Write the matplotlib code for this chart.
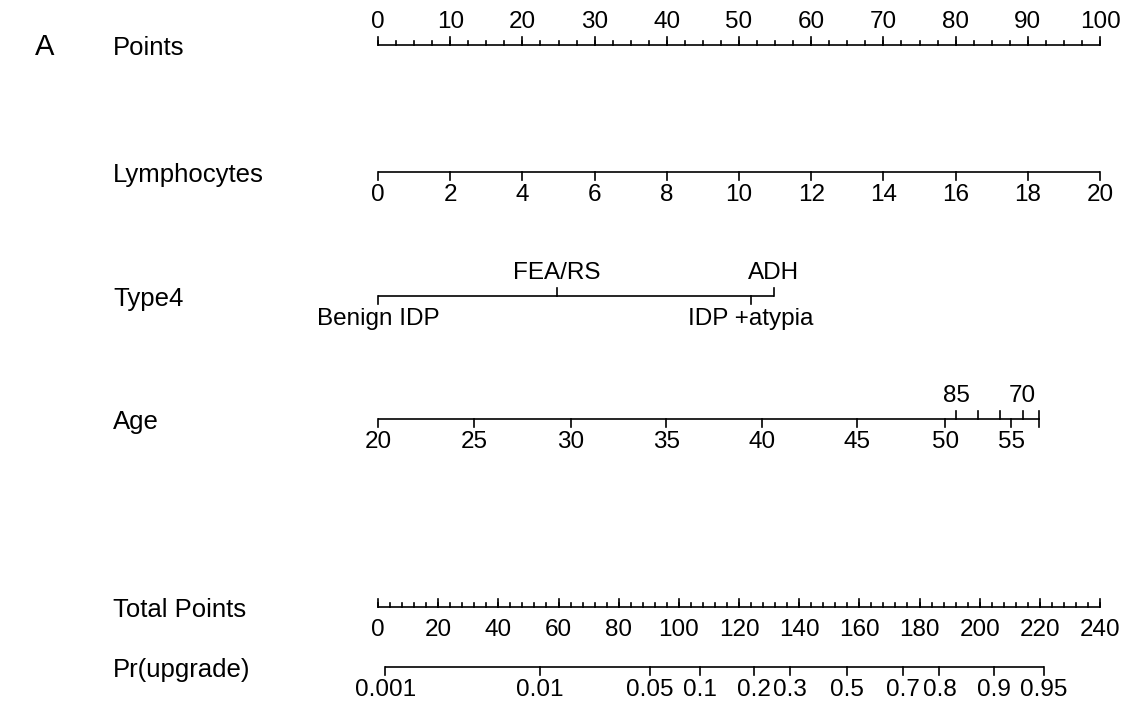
import numpy as np
import matplotlib.pyplot as plt

plt.rcParams['font.family'] = ['Liberation Sans', 'DejaVu Sans']

# nomogram data (points scale 0-100)
points_ticks = np.arange(0, 101, 10)
points_minor = np.arange(0, 100.1, 2.5)

lymph_vals = np.arange(0, 21, 2)
lymph_pts = lymph_vals * 5.0

type4_labels = ['Benign IDP', 'FEA/RS', 'IDP +atypia', 'ADH']
type4_pts = [0.0, 24.8, 51.6, 54.8]
type4_side = ['down', 'up', 'down', 'up']

age_low_vals = [20, 25, 30, 35, 40, 45, 50, 55, 60]
age_low_pts = [0.0, 13.3, 26.7, 39.9, 53.2, 66.4, 78.6, 87.7, 91.5]
age_low_show = [True, True, True, True, True, True, True, True, False]
age_high_vals = [85, 80, 75, 70, 65]
age_high_pts = [80.1, 83.1, 86.2, 89.3, 91.5]
age_high_show = [True, False, False, True, False]

total_ticks = np.arange(0, 241, 20)
total_minor = np.arange(0, 240.1, 4)
total_max = 240.0

prob_ticks = [0.001, 0.01, 0.05, 0.1, 0.2, 0.3, 0.5, 0.7, 0.8, 0.9, 0.95]
prob_labels = ['0.001', '0.01', '0.05', '0.1', '0.2', '0.3', '0.5', '0.7', '0.8', '0.9', '0.95']
lp_intercept = -7.015
lp_slope = 0.04502

row_names = ['Points', 'Lymphocytes', 'Type4', 'Age', 'Total Points', 'Pr(upgrade)']
row_y = [45, 172, 296, 419, 607, 667]

W, H = 1124, 715
fig = plt.figure(figsize=(W / 100, H / 100), dpi=100)
ax = fig.add_axes([378 / W, 0, 722 / W, 1])
ax.set_xlim(0, 100)
ax.set_ylim(H, 0)
ax.axis('off')

lw = 1.2
fs = 17.5
big = 8
small = 4
px = 100 / 722.0  # one pixel in points units


def hline(x0, x1, y):
    ax.plot([x0, x1], [y, y], color='black', lw=lw, solid_capstyle='butt', clip_on=False)


def tick(x, y, length, up):
    y2 = y - length if up else y + length
    ax.plot([x, x], [y, y2], color='black', lw=lw, clip_on=False)


def label(x, y, s, up, ha='center'):
    if up:
        ax.text(x, y - 12, s, ha=ha, va='bottom', fontsize=fs, clip_on=False)
    else:
        ax.text(x, y + 12, s, ha=ha, va='top', fontsize=fs, clip_on=False)


# row names
for name, y in zip(row_names, row_y):
    ax.text(-265 * px, y + 3, name, ha='left', va='center', fontsize=18.5, clip_on=False)
ax.text(-343 * px, 47, 'A', ha='left', va='center', fontsize=21, clip_on=False)

# Points
y = row_y[0]
hline(0, 100, y)
for v in points_minor:
    tick(v, y, small, True)
for v in points_ticks:
    tick(v, y, big, True)
    label(v, y, str(v), True)

# Lymphocytes
y = row_y[1]
hline(lymph_pts[0], lymph_pts[-1], y)
for v, p in zip(lymph_vals, lymph_pts):
    tick(p, y, big, False)
    label(p, y, str(v), False)

# Type4
y = row_y[2]
hline(min(type4_pts), max(type4_pts), y)
for s, p, side in zip(type4_labels, type4_pts, type4_side):
    up = side == 'up'
    tick(p, y, big, up)
    label(p, y, s, up)

# Age
y = row_y[3]
hline(age_low_pts[0], age_low_pts[-1], y)
for v, p, show in zip(age_low_vals, age_low_pts, age_low_show):
    tick(p, y, big, False)
    if show:
        label(p, y, str(v), False)
for v, p, show in zip(age_high_vals, age_high_pts, age_high_show):
    tick(p, y, big, True)
    if show:
        label(p, y, str(v), True)

# Total Points
y = row_y[4]
scale = 100 / total_max
hline(0, 100, y)
for v in total_minor:
    tick(v * scale, y, small, True)
for v in total_ticks:
    tick(v * scale, y, big, True)
    label(v * scale, y, str(v), False)

# Pr(upgrade)
y = row_y[5]
pr = np.array(prob_ticks)
tp = (np.log(pr / (1 - pr)) - lp_intercept) / lp_slope
hline(tp[0] * scale, tp[-1] * scale, y)
for p, s in zip(tp, prob_labels):
    tick(p * scale, y, big, False)
    label(p * scale, y, s, False)

fig.savefig('out.png', dpi=100)
